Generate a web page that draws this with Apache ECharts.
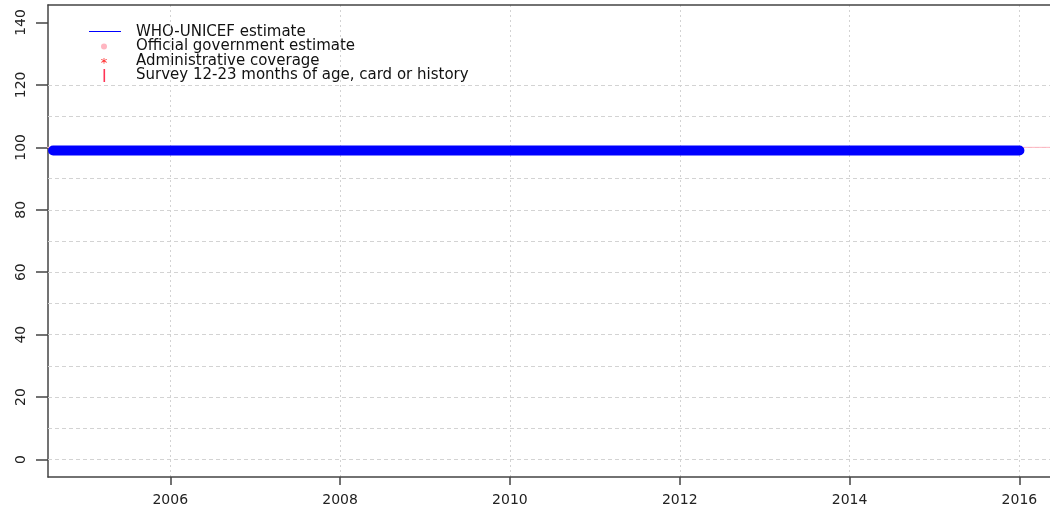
<!DOCTYPE html>
<html>
<head>
<meta charset="utf-8">
<script src="https://cdn.jsdelivr.net/npm/echarts@6/dist/echarts.min.js"></script>
<style>
  html, body { margin: 0; padding: 0; background: #fff; }
  #chart { width: 1050px; height: 511px; }
</style>
</head>
<body>
<div id="chart"></div>
<script>
// data
const whoYears = [2004.62, 2005, 2006, 2007, 2008, 2009, 2010, 2011, 2012, 2013, 2014, 2015, 2016]
const whoValues = [99, 99, 99, 99, 99, 99, 99, 99, 99, 99, 99, 99, 99]
const govYears = [2004, 2005, 2006, 2007, 2008, 2009, 2010, 2011, 2012, 2013, 2014, 2015, 2016, 2017]
const govValues = [100, 100, 100, 100, 100, 100, 100, 100, 100, 100, 100, 100, 100, 100]
const xTickLabels = [2006, 2008, 2010, 2012, 2014, 2016]
const yTickLabels = [0, 20, 40, 60, 80, 100, 120, 140]
const hGridValues = [0, 10, 20, 30, 40, 50, 60, 70, 80, 90, 100, 110, 120]
const legendNames = [
  'WHO-UNICEF estimate',
  'Official government estimate',
  'Administrative coverage',
  'Survey 12-23 months of age, card or history'
]

const font = 'DejaVu Sans'
const frame = { color: '#444', width: 1.5 }
const pair = (xs, ys) => xs.map((x, i) => [x, ys[i]])

// legend drawn by hand, R style
const rowY = [32, 46.5, 61, 75.5]
const legendGraphics = [
  { type: 'line', shape: { x1: 89, y1: 31.5, x2: 121, y2: 31.5 }, style: { stroke: '#0000ff', lineWidth: 1 } },
  { type: 'circle', shape: { cx: 104, cy: rowY[1], r: 3 }, style: { fill: '#ffb6c1' } },
  { type: 'text', x: 104, y: rowY[2] + 3, style: { text: '*', fill: '#ff2020', font: '13px ' + font, align: 'center', verticalAlign: 'middle' } },
  { type: 'rect', shape: { x: 103.5, y: rowY[3] - 6.5, width: 1.6, height: 13 }, style: { fill: '#ff3355' } }
]
legendNames.forEach((name, i) => {
  legendGraphics.push({
    type: 'text',
    x: 136,
    y: rowY[i],
    style: { text: name, fill: '#111', font: '15px ' + font, verticalAlign: 'middle' }
  })
})

const option = {
  animation: false,
  grid: {
    left: 48,
    top: 5,
    right: 0,
    bottom: 34
  },
  xAxis: [
    {
      type: 'value',
      min: 2004.56,
      max: 2016.36,
      splitNumber: 12,
      minInterval: 1,
      maxInterval: 1,
      axisLine: { show: true, onZero: false, lineStyle: frame },
      axisTick: { show: true, length: 8, customValues: xTickLabels, lineStyle: frame },
      axisLabel: {
        customValues: xTickLabels,
        margin: 16,
        color: '#222',
        fontFamily: font,
        fontSize: 14,
        formatter: v => String(v)
      },
      splitLine: { show: true, lineStyle: { color: '#d3d3d3', type: [2, 3], width: 1 } }
    },
    {
      // top of the box
      type: 'value',
      position: 'top',
      min: 2004.56,
      max: 2016.36,
      axisLine: { show: true, onZero: false, lineStyle: frame },
      axisTick: { show: false },
      axisLabel: { show: false },
      splitLine: { show: false }
    }
  ],
  yAxis: {
    type: 'value',
    min: -5.6,
    max: 145.6,
    axisLine: { show: true, onZero: false, lineStyle: frame },
    axisTick: { show: true, length: 12, customValues: yTickLabels, lineStyle: frame },
    axisLabel: {
      customValues: yTickLabels,
      rotate: 90,
      margin: 20,
      color: '#222',
      fontFamily: font,
      fontSize: 14,
      formatter: v => String(v)
    },
    splitLine: { show: false }
  },
  series: [
    {
      // horizontal grid
      type: 'line',
      z: 1,
      data: [],
      markLine: {
        z: 1,
        silent: true,
        symbol: 'none',
        label: { show: false },
        lineStyle: { color: '#d3d3d3', type: [4, 3], width: 1 },
        data: hGridValues.map(v => ({ yAxis: v }))
      }
    },
    {
      name: legendNames[1],
      type: 'line',
      z: 2,
      data: pair(govYears, govValues),
      showSymbol: false,
      lineStyle: { color: '#ffb6c1', width: 1 }
    },
    {
      name: legendNames[0],
      type: 'line',
      z: 3,
      data: pair(whoYears, whoValues),
      showSymbol: false,
      lineStyle: { color: '#0000ff', width: 10, cap: 'round' }
    }
  ],
  graphic: legendGraphics
}

const chart = echarts.init(document.getElementById('chart'))
chart.setOption(option)
</script>
</body>
</html>
